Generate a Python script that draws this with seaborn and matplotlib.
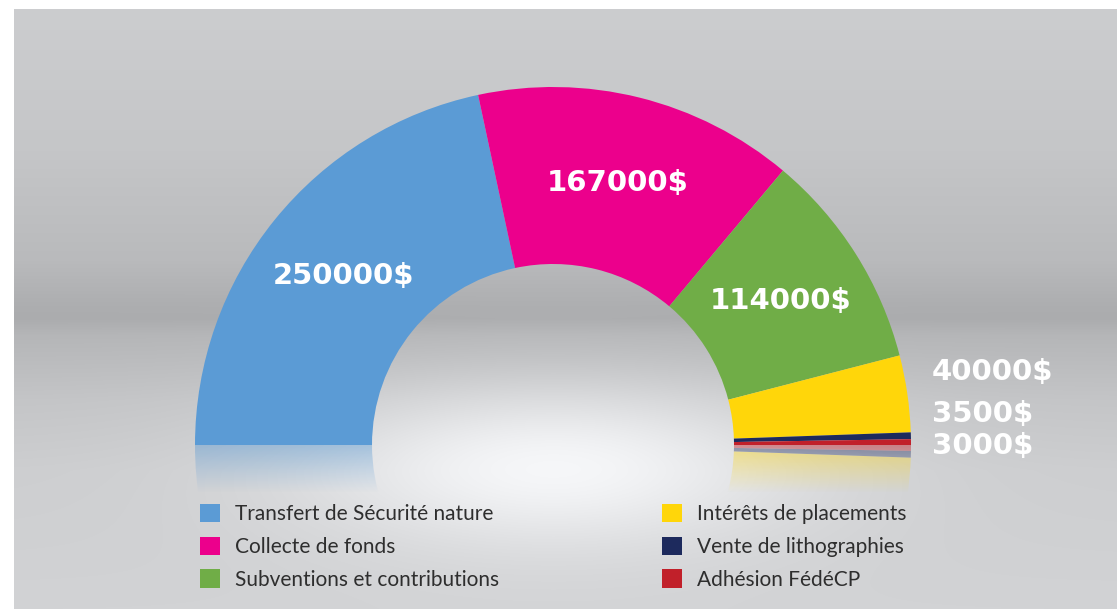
import numpy as np
import matplotlib
matplotlib.use("Agg")
import matplotlib.pyplot as plt
import matplotlib.patches as mpatches
import seaborn as sns

sns.set_theme(style="white")
plt.rcParams["font.family"] = ["Lato", "DejaVu Sans"]

# data
categories = ["Transfert de Sécurité nature", "Collecte de fonds",
              "Subventions et contributions", "Intérêts de placements",
              "Vente de lithographies", "Adhésion FédéCP"]
values = [250000, 167000, 114000, 40000, 3500, 3000]
value_labels = ["250000$", "167000$", "114000$", "40000$", "3500$", "3000$"]
colors = sns.color_palette(["#5b9bd5", "#ec008c", "#70ad47", "#ffd60a",
                            "#1d2a5d", "#c1202a"])

W, H = 1117, 609
cx, cy_top = 553, 445
cy = H - cy_top
R, r_in = 358, 181
ring = R - r_in

fig = plt.figure(figsize=(W / 100, H / 100), dpi=100)
fig.patch.set_facecolor("white")
ax = fig.add_axes([0, 0, 1, 1])

# background: grey studio gradient with soft white glow under the chart
yy, xx = np.mgrid[0:H, 0:W]
stops_y = [9, 150, 260, 305, 318, 335, 400, 470, 609]
stops_v = [204, 197, 185, 173, 171, 181, 196, 205, 210]
base = np.interp(yy, stops_y, stops_v)
glow = np.exp(-((xx - 553) / 250.0) ** 2 - ((yy - 468) / 80.0) ** 2)
val = base + (250 - base) * 0.9 * glow
bg = np.dstack([val, val + 1, val + 3]) / 255.0
bg = np.clip(bg, 0, 1)
bg[(xx < 14) | (yy < 9)] = 1.0
ax.imshow(bg, extent=(0, W, 0, H), origin="upper", zorder=0, aspect="auto")

# reflection (mirrored ring, faded out by a background overlay)
refl, _ = ax.pie(values + [sum(values)], colors=list(colors) + ["none"],
                 startangle=180, counterclock=True, radius=R, center=(cx, cy),
                 wedgeprops=dict(width=ring, linewidth=0, alpha=0.55), frame=True)
for w in refl:
    w.set_zorder(1)
cover = np.zeros((H - cy_top, W, 4))
cover[..., :3] = bg[cy_top:]
ramp = np.ones(H - cy_top)
ramp[:48] = np.linspace(0.2, 1.0, 48)
cover[..., 3] = ramp[:, None]
ax.imshow(cover, extent=(0, W, 0, cy), origin="upper", zorder=2, aspect="auto")

# half donut
wedges, _ = ax.pie(values + [sum(values)], colors=list(colors) + ["none"],
                   startangle=180, counterclock=False, radius=R, center=(cx, cy),
                   wedgeprops=dict(width=ring, linewidth=0), frame=True)
for w in wedges:
    w.set_zorder(3)

# value labels
r_mid = R - ring / 2
for w, lab in zip(wedges[:3], value_labels[:3]):
    a = np.deg2rad((w.theta1 + w.theta2) / 2)
    ax.text(cx + r_mid * np.cos(a), cy + r_mid * np.sin(a), lab,
            ha="center", va="center", color="white", fontsize=21,
            fontweight="bold", family="DejaVu Sans", zorder=5)
for lab, yt in zip(value_labels[3:], [372, 414, 446]):
    ax.text(cx + R + 21, H - yt, lab, ha="left", va="center", color="white",
            fontsize=21, fontweight="bold", family="DejaVu Sans", zorder=5)

# legend
handles = [mpatches.Patch(facecolor=c, edgecolor="none") for c in colors]
leg = ax.legend(handles, categories, ncol=2, frameon=False, fontsize=15,
                loc="upper left", bbox_to_anchor=(200, H - 504),
                bbox_transform=ax.transData, borderpad=0, borderaxespad=0,
                handlelength=0.96, handleheight=0.96, handletextpad=0.72,
                labelspacing=0.6, columnspacing=7.8)
for t in leg.get_texts():
    t.set_color("#2e2e2e")
leg.set_zorder(6)

ax.set_xlim(0, W)
ax.set_ylim(0, H)
ax.set_aspect("auto")
ax.axis("off")

fig.savefig("out.png", dpi=100)
